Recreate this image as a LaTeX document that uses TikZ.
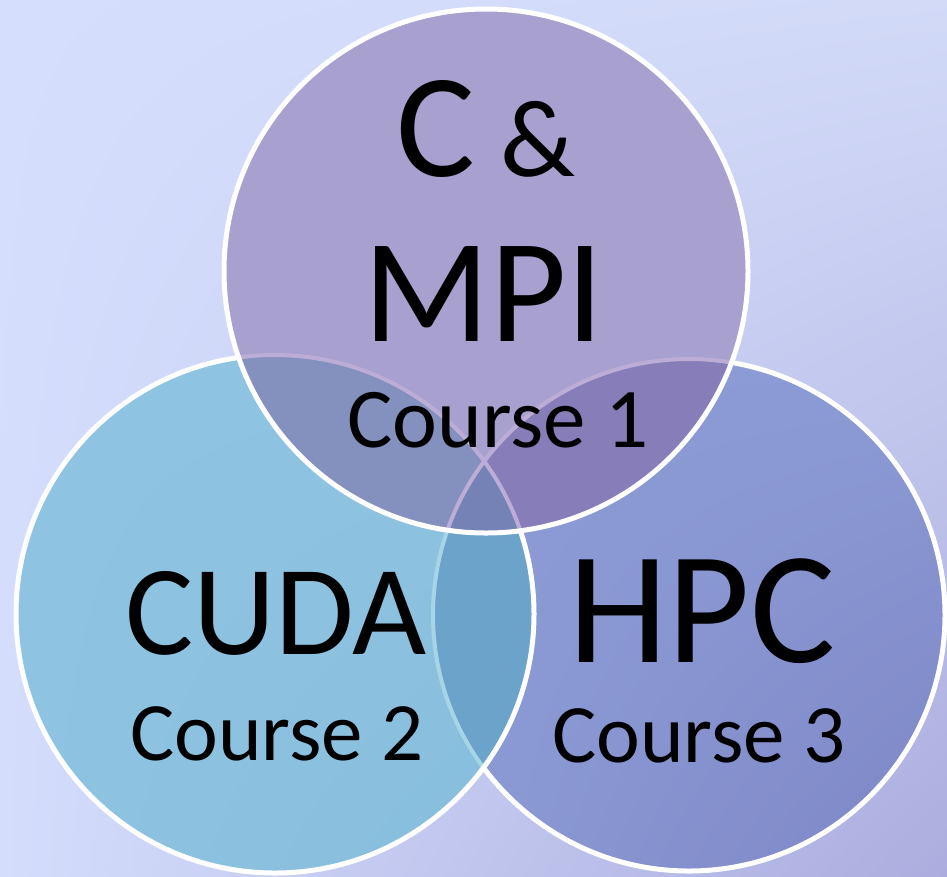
\documentclass[tikz,border=0pt]{standalone}
\usepackage{fontspec}
\setmainfont{Carlito}
\usetikzlibrary{shadings}
\definecolor{bgA}{HTML}{D5DEFD}
\definecolor{bgB}{HTML}{D2DAF8}
\definecolor{bgC}{HTML}{D4DDFC}
\definecolor{bgD}{HTML}{ABADDE}
\definecolor{colT}{HTML}{A8A0CE}
\definecolor{colLa}{HTML}{8EC4E1}
\definecolor{colLb}{HTML}{87BCDC}
\definecolor{colRa}{HTML}{8C9BD5}
\definecolor{colRb}{HTML}{7D85C5}
\definecolor{colTL}{HTML}{8490BD}
\definecolor{colTR}{HTML}{877DB9}
\definecolor{colLR}{HTML}{6BA3CB}
\definecolor{colTLR}{HTML}{7582B6}
\definecolor{lineL}{HTML}{A6D6E6}
\definecolor{lineT}{HTML}{BCADD6}
\tikzset{
  rim/.style={draw=white, line width=5pt},
  faintL/.style={draw=lineL, line width=4pt},
  faintT/.style={draw=lineT, line width=4pt},
  bigtxt/.style={anchor=base, inner sep=0pt, text=black},
}
\def\Tc{(486,271) circle[radius=262]}
\def\Lc{(275,614) circle[radius=259]}
\def\Rc{(689,615) circle[radius=256]}
\begin{document}
\begin{tikzpicture}[x=1pt,y=-1pt]
\useasboundingbox (0,0) rectangle (947,876);
\shade[upper left=bgA, upper right=bgB, lower left=bgC, lower right=bgD] (0,0) rectangle (947,876);
% right circle
\shade[upper left=colRa, upper right=colRa, lower left=colRa, lower right=colRb] \Rc;
\path[rim] \Rc;
% left circle
\shade[upper left=colLa, upper right=colLa, lower left=colLa, lower right=colLb] \Lc;
\begin{scope}
  \clip \Lc;
  \fill[colLR] \Rc;
  \path[faintL] \Rc;
\end{scope}
\path[rim] \Lc;
% top circle
\fill[colT] \Tc;
\begin{scope}
  \clip \Tc;
  \fill[colTL] \Lc;
  \fill[colTR] \Rc;
  \begin{scope}
    \clip \Lc;
    \fill[colTLR] \Rc;
  \end{scope}
  \path[faintT] \Lc;
  \path[faintT] \Rc;
\end{scope}
\path[rim] \Tc;
% texts
\node[bigtxt] (cand) at (486,176) {\fontsize{148}{150}\selectfont C\fontsize{110}{112}\selectfont\ \&};
\node[bigtxt] (mpi) at (484,341) {\fontsize{148}{150}\selectfont MPI};
\node[bigtxt] (c1) at (498,447) {\fontsize{85}{88}\selectfont Course 1};
\node[bigtxt] (cuda) at (276,654) {\fontsize{128}{130}\selectfont CUDA};
\node[bigtxt] (c2) at (277,760) {\fontsize{83}{86}\selectfont Course 2};
\node[bigtxt] (hpc) at (702,662) {\fontsize{160}{162}\selectfont HPC};
\node[bigtxt] (c3) at (699,762) {\fontsize{83}{86}\selectfont Course 3};
\end{tikzpicture}
\end{document}
